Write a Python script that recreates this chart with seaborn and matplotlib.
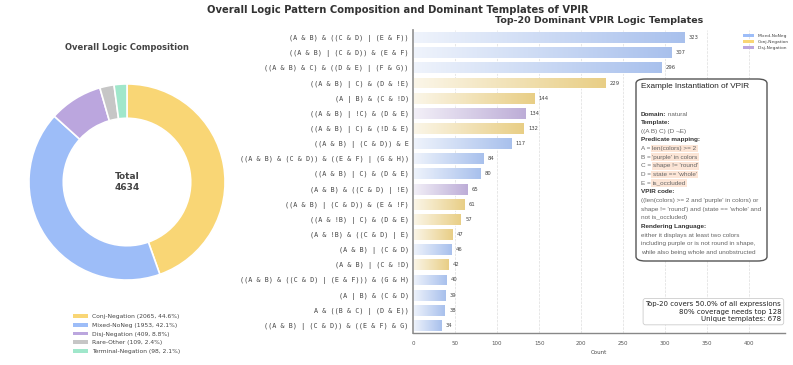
import numpy as np
import pandas as pd
import matplotlib
matplotlib.use("Agg")
import matplotlib.pyplot as plt
import matplotlib.colors as mcolors
from matplotlib.patches import Patch, FancyBboxPatch
import seaborn as sns

# ==========================
# Data
# ==========================

pie_labels = ["Conj-Negation", "Mixed-NoNeg", "Disj-Negation", "Rare-Other", "Terminal-Negation"]
pie_values = [2065, 1953, 409, 109, 98]

templates = [
    "(A & B) & ((C & D) | (E & F))",
    "((A & B) | (C & D)) & (E & F)",
    "((A & B) & C) & ((D & E) | (F & G))",
    "((A & B) | C) & (D & !E)",
    "(A | B) & (C & !D)",
    "((A & B) | !C) & (D & E)",
    "((A & B) | C) & (!D & E)",
    "((A & B) | (C & D)) & E",
    "((A & B) & (C & D)) & ((E & F) | (G & H))",
    "((A & B) | C) & (D & E)",
    "(A & B) & ((C & D) | !E)",
    "((A & B) | (C & D)) & (E & !F)",
    "((A & !B) | C) & (D & E)",
    "(A & !B) & ((C & D) | E)",
    "(A & B) | (C & D)",
    "(A & B) | (C & !D)",
    "((A & B) & ((C & D) | (E & F))) & (G & H)",
    "(A | B) & (C & D)",
    "A & ((B & C) | (D & E))",
    "((A & B) | (C & D)) & ((E & F) & G)",
]
template_counts = [323, 307, 296, 229, 144, 134, 132, 117, 84, 80,
                   65, 61, 57, 47, 46, 42, 40, 39, 38, 34]
template_types = ["Mixed-NoNeg", "Mixed-NoNeg", "Mixed-NoNeg", "Conj-Negation", "Conj-Negation",
                  "Disj-Negation", "Conj-Negation", "Mixed-NoNeg", "Mixed-NoNeg", "Mixed-NoNeg",
                  "Disj-Negation", "Conj-Negation", "Conj-Negation", "Conj-Negation", "Mixed-NoNeg",
                  "Conj-Negation", "Mixed-NoNeg", "Mixed-NoNeg", "Mixed-NoNeg", "Mixed-NoNeg"]

unique_templates = 678
top_for_80 = 128

palette = {
    "Conj-Negation": "#F9D675",
    "Mixed-NoNeg": "#9DBDF8",
    "Disj-Negation": "#BBA6DE",
    "Rare-Other": "#C6C6C6",
    "Terminal-Negation": "#A0E7CB",
}

# example instantiation (label, plain text, highlighted text)
example_lines = [
    ("Domain:", "natural", None),
    ("Template:", None, None),
    (None, "((A B) C) (D ¬E)", None),
    ("Predicate mapping:", None, None),
    (None, "A = ", "len(colors) >= 2"),
    (None, "B = ", "'purple' in colors"),
    (None, "C = ", "shape != 'round'"),
    (None, "D = ", "state == 'whole'"),
    (None, "E = ", "is_occluded"),
    ("VPIR code:", None, None),
    (None, "((len(colors) >= 2 and 'purple' in colors) or", None),
    (None, "shape != 'round') and (state == 'whole' and", None),
    (None, "not is_occluded)", None),
    ("Rendering Language:", None, None),
    (None, "either it displays at least two colors", None),
    (None, "including purple or is not round in shape,", None),
    (None, "while also being whole and unobstructed", None),
]

# ==========================
# Figure
# ==========================

sns.set_theme(style="white")
plt.rcParams["font.family"] = ["DejaVu Sans"]

W, H = 793, 365
fig = plt.figure(figsize=(W / 100, H / 100), dpi=100)


def fx(px):
    return px / W


def fy(py):
    return 1 - py / H


fig.text(fx(398), fy(10), "Overall Logic Pattern Composition and Dominant Templates of VPIR",
         ha="center", va="center", fontsize=7.2, fontweight="bold", color="#333333")

# ==========================
# Donut
# ==========================

ax_pie = fig.add_axes([fx(27), fy(282), fx(200), 200 / H])
ax_pie.pie(pie_values, colors=[palette[l] for l in pie_labels], startangle=90,
           counterclock=False,
           wedgeprops=dict(width=0.35, edgecolor="white", linewidth=1.2))
ax_pie.set_xlim(-1.02, 1.02)
ax_pie.set_ylim(-1.02, 1.02)
ax_pie.set_aspect("equal")
total = sum(pie_values)
ax_pie.text(0, 0, f"Total\n{total}", ha="center", va="center",
            fontsize=6.5, fontweight="bold", color="#444444", linespacing=1.3)

fig.text(fx(127), fy(48), "Overall Logic Composition", ha="center", va="center",
         fontsize=6, fontweight="bold", color="#444444")

pie_handles = [Patch(facecolor=palette[l], edgecolor="none") for l in pie_labels]
pie_texts = [f"{l} ({v}, {v / total * 100:.1f}%)" for l, v in zip(pie_labels, pie_values)]
fig.legend(pie_handles, pie_texts, loc="upper left", bbox_to_anchor=(fx(68), fy(309)),
           frameon=False, fontsize=4.3, handlelength=2.4, handleheight=0.6,
           labelspacing=0.6, labelcolor="#444444")

# ==========================
# Top-20 bars
# ==========================

df = pd.DataFrame({"template": templates, "count": template_counts, "type": template_types})

ax = fig.add_axes([fx(413), fy(333), fx(785 - 413), 303 / H])
sns.barplot(data=df, x="count", y="template", hue="type", palette=palette,
            dodge=False, legend=False, width=0.72, ax=ax)

xmax = max(template_counts) * 1.37

# gradient fill for every bar
for p in list(ax.patches):
    w = p.get_width()
    if w <= 0:
        continue
    c = np.array(mcolors.to_rgb(p.get_facecolor()))
    t = np.linspace(0.18, 1.0, 256)[None, :, None]
    grad = (1 - t) * np.ones(3) + t * c
    img = ax.imshow(grad, extent=[p.get_x(), p.get_x() + w, p.get_y() + p.get_height(), p.get_y()],
                    aspect="auto", zorder=2, interpolation="bilinear")
    img.set_clip_path(p)
    p.set_facecolor("none")
    p.set_edgecolor("#ffffff")
    p.set_linewidth(0.6)

ax.set_xlim(0, xmax)
ax.set_ylim(len(templates) - 0.5, -0.5)

for i, v in enumerate(template_counts):
    ax.text(v + 5, i, str(v), va="center", ha="left", fontsize=3.8, color="#444444")

ax.set_xticks([0, 50, 100, 150, 200, 250, 300, 350, 400])
ax.tick_params(axis="x", labelsize=4, colors="#555555", length=2, width=0.6)
ax.tick_params(axis="y", labelsize=4.9, colors="#444444", length=2, width=0.6, pad=1)
for lab in ax.get_yticklabels():
    lab.set_family("DejaVu Sans Mono")
ax.set_ylabel("")
ax.set_xlabel("Count", fontsize=4, color="#444444", labelpad=3)
ax.xaxis.grid(True, linestyle="--", color="#dddddd", linewidth=0.5)
ax.set_axisbelow(True)
sns.despine(ax=ax)
ax.spines["left"].set_color("#999999")
ax.spines["left"].set_linewidth(1.3)
ax.spines["bottom"].set_color("#888888")
ax.spines["bottom"].set_linewidth(1.0)

ax.set_title("Top-20 Dominant VPIR Logic Templates", fontsize=6.8, fontweight="bold",
             color="#333333", pad=5)

bar_handles = [Patch(facecolor=palette[k], edgecolor="none")
               for k in ["Mixed-NoNeg", "Conj-Negation", "Disj-Negation"]]
ax.legend(bar_handles, ["Mixed-NoNeg", "Conj-Negation", "Disj-Negation"],
          loc="upper right", bbox_to_anchor=(1.02, 1.0), frameon=False, fontsize=3.2,
          handlelength=2.5, handleheight=0.6, labelspacing=0.5, labelcolor="#444444")

ax.text(0.99, 0.035,
        f"Top-{len(templates)} covers {sum(template_counts) / total * 100:.1f}% of all expressions\n"
        f"80% coverage needs top {top_for_80}\nUnique templates: {unique_templates}",
        transform=ax.transAxes, ha="right", va="bottom", multialignment="right",
        fontsize=5, color="#222222", linespacing=1.35,
        bbox=dict(boxstyle="round,pad=0.35", facecolor="white", edgecolor="#cccccc", linewidth=0.6))

# ==========================
# Example instantiation box
# ==========================

box = FancyBboxPatch((fx(636), fy(261)), fx(767 - 636), (261 - 79) / H,
                     boxstyle="round,pad=0,rounding_size=0.012", transform=fig.transFigure,
                     facecolor="white", edgecolor="#555555", linewidth=1.0, zorder=5)
fig.add_artist(box)

fig.text(fx(641), fy(87), "Example Instantiation of VPIR", ha="left", va="center",
         fontsize=5.9, color="#222222", family="Liberation Sans", zorder=6)

y0 = 114
step = 8.65
fs = 4.6
for k, (head, body, hl) in enumerate(example_lines):
    yy = fy(y0 + k * step)
    prev = None
    if head is not None:
        prev = fig.text(fx(641), yy, head, ha="left", va="center", fontsize=fs,
                        fontweight="bold", color="#333333", family="Liberation Sans", zorder=6)
    if body is not None:
        if prev is None:
            prev = fig.text(fx(641), yy, body, ha="left", va="center", fontsize=fs,
                            color="#666666", family="Liberation Sans", zorder=6)
        else:
            prev = fig.add_artist(plt.Annotation(" " + body, xy=(1, 0.5), xycoords=prev,
                                                 ha="left", va="center", fontsize=fs,
                                                 color="#666666", family="Liberation Sans",
                                                 zorder=6))
    if hl is not None:
        fig.add_artist(plt.Annotation(hl, xy=(1, 0.5), xycoords=prev, ha="left", va="center",
                                      fontsize=fs, color="#666666", family="Liberation Sans",
                                      zorder=6,
                                      bbox=dict(boxstyle="square,pad=0.2", facecolor="#FCE5D6",
                                                edgecolor="none")))

fig.savefig("out.png", dpi=100)
